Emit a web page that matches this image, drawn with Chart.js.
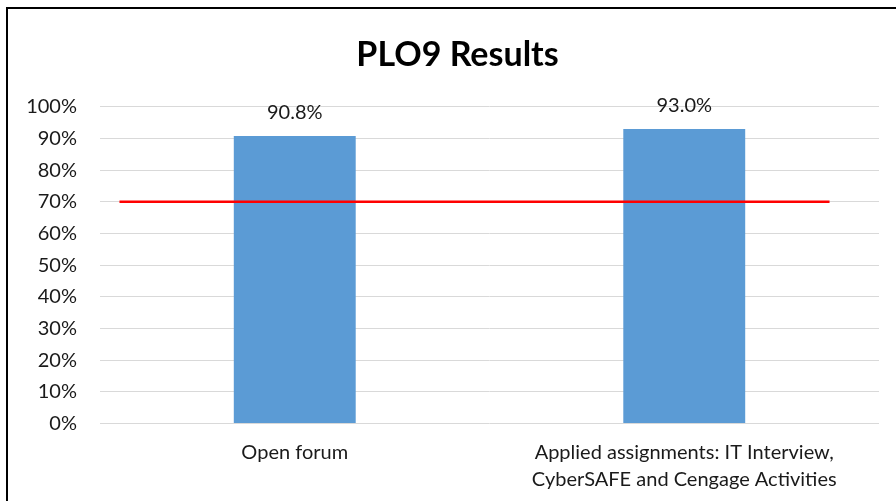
<!DOCTYPE html>
<html>
<head>
<meta charset="utf-8">
<script src="https://cdn.jsdelivr.net/npm/chart.js@4/dist/chart.umd.min.js"></script>
<style>
  html, body { margin: 0; padding: 0; background: #fff; overflow: hidden; }
  #wrap { position: relative; width: 896px; height: 501px; overflow: hidden; }
  #frame { position: absolute; left: 6px; top: 7px; width: 1000px; height: 1000px;
           border-left: 2px solid #000; border-top: 2px solid #000; box-sizing: border-box; pointer-events: none; }
  canvas { position: absolute; left: 0; top: 0; }
</style>
</head>
<body>
<div id="wrap">
  <canvas id="c" width="915" height="501"></canvas>
  <div id="frame"></div>
</div>
<script>
// ---- data ----
const chartTitle = 'PLO9 Results';
const categories = ['Open forum', ['Applied assignments: IT Interview,', 'CyberSAFE and Cengage Activities']];
const results = [90.8, 93.0];
const targetValue = 70;
const targetStart = 0.05;   // fraction of category slots (0..2) where the target line begins
const targetEnd = 1.873;    // ... and ends
const yTicks = [0, 10, 20, 30, 40, 50, 60, 70, 80, 90, 100];

const FONT = 'Lato, "Open Sans", sans-serif';

// target line drawn through the chart's own scales
const targetLine = {
  id: 'targetLine',
  afterDatasetsDraw(chart) {
    const xs = chart.scales.x, ys = chart.scales.y;
    const n = chart.data.labels.length;
    const x1 = xs.getPixelForDecimal(targetStart / n);
    const x2 = xs.getPixelForDecimal(targetEnd / n);
    const y = ys.getPixelForValue(targetValue);
    const ctx = chart.ctx;
    ctx.save();
    ctx.strokeStyle = '#ff0000';
    ctx.lineWidth = 2.5;
    ctx.beginPath();
    ctx.moveTo(x1, y);
    ctx.lineTo(x2, y);
    ctx.stroke();
    ctx.restore();
  }
};

const valueLabels = {
  id: 'valueLabels',
  afterDatasetsDraw(chart) {
    const ctx = chart.ctx;
    const meta = chart.getDatasetMeta(0);
    ctx.save();
    ctx.font = '20px ' + FONT;
    ctx.fillStyle = '#1a1a1a';
    ctx.textAlign = 'center';
    ctx.textBaseline = 'alphabetic';
    meta.data.forEach((el, i) => {
      const v = chart.data.datasets[0].data[i];
      ctx.fillText(v.toFixed(1) + '%', el.x, el.y - 17);
    });
    ctx.restore();
  }
};

new Chart(document.getElementById('c'), {
  type: 'bar',
  data: {
    labels: categories,
    datasets: [
      {
        label: 'Results',
        data: results,
        backgroundColor: '#5b9bd5',
        borderWidth: 0,
        barPercentage: 0.313,
        categoryPercentage: 1
      }
    ]
  },
  options: {
    responsive: false,
    animation: false,
    devicePixelRatio: 1,
    layout: { padding: 0 },
    plugins: {
      legend: { display: false },
      tooltip: { enabled: false },
      title: {
        display: true,
        text: chartTitle,
        color: '#000',
        font: { family: FONT, size: 34, weight: 'bold', lineHeight: 1.2 },
        padding: { top: 35, bottom: 31 }
      }
    },
    scales: {
      x: {
        type: 'category',
        grid: { display: false, drawTicks: false },
        border: { display: false },
        ticks: {
          color: '#1a1a1a',
          font: { family: FONT, size: 20, lineHeight: 1.35 },
          padding: 16,
          maxRotation: 0,
          autoSkip: false
        },
        afterFit(scale) { scale.height = 77.5; }
      },
      y: {
        min: 0,
        max: 100,
        afterBuildTicks(scale) { scale.ticks = yTicks.map(v => ({ value: v })); },
        grid: { color: '#d9d9d9', lineWidth: 1, drawTicks: false },
        border: { display: false },
        ticks: {
          color: '#1a1a1a',
          font: { family: FONT, size: 20 },
          padding: 23,
          callback: v => v + '%'
        },
        afterFit(scale) { scale.width = 100; }
      },
      yRightSpace: {
        type: 'linear',
        position: 'right',
        display: true,
        grid: { display: false, drawTicks: false },
        border: { display: false },
        ticks: { display: false },
        afterFit(scale) { scale.width = 36; }
      }
    }
  },
  plugins: [targetLine, valueLabels]
});
</script>
</body>
</html>
